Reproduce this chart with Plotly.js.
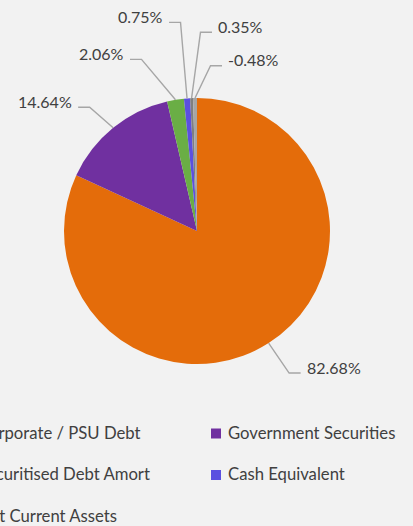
<!DOCTYPE html>
<html><head><meta charset="utf-8">
<script src="https://cdn.plot.ly/plotly-3.0.1.min.js"></script>
<style>html,body{margin:0;padding:0;background:#f2f2f2;overflow:hidden}</style>
</head><body><div id="chart" style="width:413px;height:526px"></div>
<script>
// ---- data ----
const categories = ["Corporate / PSU Debt", "Government Securities", "Securitised Debt Amort", "Cash Equivalent", "Net Current Assets", "Others"];
const shares = [82.68, 14.64, 2.06, 0.75, 0.35, -0.48];
const colors = ["#E46C0A", "#7030A0", "#6AAE45", "#5B50E0", "#7F7F7F", "#A5A5A5"];
const inLegend = [true, true, true, true, true, false];

// ---- layout helpers (pixels) ----
const W = 413, H = 526;
const cx = 197, cy = 231, R = 133;
// where each leader line meets its label, relative to the slice edge point
const labelOffsets = [[32, 30], [-35, -20.5], [-45.5, -40.4], [-18, -76], [20.4, -65.8], [27, -32.3]];
const FONT = "Lato, 'Open Sans', sans-serif";
const TXT = "#404040";

const px = x => x / W;
const py = y => 1 - y / H;

const values = shares.map(v => Math.abs(v));
const total = values.reduce((a, b) => a + b, 0);

const shapes = [];
const annotations = [];
let cum = 0;
values.forEach((v, i) => {
  const mid = (cum + v / 2) / total;
  cum += v;
  const th = 2 * Math.PI * mid;
  const Px = cx + R * Math.sin(th), Py = cy - R * Math.cos(th);
  const Hx = Px + labelOffsets[i][0], Hy = Py + labelOffsets[i][1];
  const left = labelOffsets[i][0] < 0;
  const Ex = left ? Hx + 11.5 : Hx - 11.5;
  shapes.push({
    type: "path", xref: "paper", yref: "paper",
    path: `M ${px(Px)} ${py(Py)} L ${px(Ex)} ${py(Hy)} L ${px(Hx)} ${py(Hy)}`,
    line: {color: "#A6A6A6", width: 1.4}
  });
  annotations.push({
    xref: "paper", yref: "paper", showarrow: false,
    x: px(left ? Hx - 4 : Hx + 4), y: py(Hy - 6),
    xanchor: left ? "right" : "left", yanchor: "middle",
    text: shares[i].toFixed(2) + "%",
    font: {family: FONT, size: 16, color: TXT}
  });
});

// legend (two columns, row-wise)
const legCols = [-24, 226];
const legRows = [433.5, 475, 516.5];
let k = 0;
categories.forEach((c, i) => {
  if (!inLegend[i]) return;
  const col = k % 2, row = Math.floor(k / 2);
  k++;
  const tx = legCols[col], ty = legRows[row];
  shapes.push({
    type: "rect", xref: "paper", yref: "paper",
    x0: px(tx - 15), x1: px(tx - 5), y0: py(ty - 5), y1: py(ty + 5),
    fillcolor: colors[i], line: {width: 0}
  });
  annotations.push({
    xref: "paper", yref: "paper", showarrow: false,
    x: px(tx), y: py(ty - 1), xanchor: "left", yanchor: "middle",
    text: c, font: {family: FONT, size: 16.7, color: TXT}
  });
});

const trace = {
  type: "pie",
  labels: categories,
  values: values,
  sort: false,
  direction: "clockwise",
  rotation: 0,
  textinfo: "none",
  hoverinfo: "none",
  marker: {colors: colors, line: {width: 0}},
  domain: {x: [px(cx - R), px(cx + R)], y: [py(cy + R), py(cy - R)]},
  showlegend: false
};

Plotly.newPlot("chart", [trace], {
  width: W, height: H,
  margin: {l: 0, r: 0, t: 0, b: 0},
  paper_bgcolor: "#F2F2F2",
  plot_bgcolor: "#F2F2F2",
  showlegend: false,
  shapes: shapes,
  annotations: annotations,
  font: {family: FONT, color: TXT}
}, {displayModeBar: false, staticPlot: true});
</script>
</body></html>
